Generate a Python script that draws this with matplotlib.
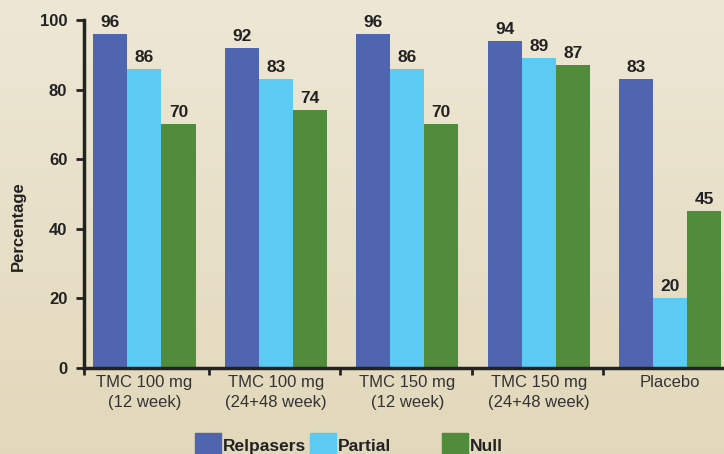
import numpy as np
import matplotlib
matplotlib.use("Agg")
from matplotlib import pyplot as plt
from matplotlib.patches import Rectangle

plt.rcParams['font.family'] = ['Liberation Sans', 'DejaVu Sans']

GROUPS = ['TMC 100 mg\n(12 week)', 'TMC 100 mg\n(24+48 week)', 'TMC 150 mg\n(12 week)',
          'TMC 150 mg\n(24+48 week)', 'Placebo']
RELAPSERS = [96, 92, 96, 94, 83]
PARTIAL = [86, 83, 86, 89, 20]
NULL = [70, 74, 70, 87, 45]
SERIES = ['Relpasers', 'Partial', 'Null']
COLORS = ['#5065b0', '#5bcbf3', '#518c3d']

fig = plt.figure(figsize=(7.24, 4.54), dpi=100)

# soft cream gradient behind everything
bg = fig.add_axes([0, 0, 1, 1], zorder=-10)
grad = np.linspace(0, 1, 256).reshape(-1, 1)
top = np.array([0.930, 0.906, 0.835])
bot = np.array([0.886, 0.847, 0.733])
img = top + (bot - top) * grad[:, :, None]
bg.imshow(img, aspect='auto', extent=[0, 1, 0, 1])
bg.axis('off')

ax = fig.add_axes([84 / 724, 86 / 454, 1 - 84 / 724, 348 / 454])
ax.patch.set_alpha(0)

x = np.arange(len(GROUPS))
w = 0.259
for i, (vals, col) in enumerate(zip([RELAPSERS, PARTIAL, NULL], COLORS)):
    pos = x + (i - 1) * w
    ax.bar(pos, vals, width=w, color=col, zorder=2)
    for p, v in zip(pos, vals):
        ax.text(p, v + 1.2, str(v), ha='center', va='bottom', fontsize=12.5,
                fontweight='bold', color='#222222')

xmin, xmax = -0.46, 4.41
ax.set_xlim(xmin, xmax)
ax.set_ylim(0, 100)
ax.set_yticks([0, 20, 40, 60, 80, 100])
ax.tick_params(axis='y', labelsize=12, width=2, length=6, color='#222222', pad=6)
for lab in ax.get_yticklabels():
    lab.set_fontweight('bold')
    lab.set_color('#222222')

# group boundaries get the ticks, names sit in between
ax.set_xticks(np.concatenate([[xmin], x[:-1] + 0.49]))
ax.set_xticklabels([])
ax.set_xticks(x, minor=True)
ax.set_xticklabels(GROUPS, minor=True, fontsize=12, color='#333333', linespacing=1.4)
ax.tick_params(axis='x', which='major', width=2, length=5, color='#222222')
ax.tick_params(axis='x', which='minor', length=0, pad=5)

for s in ['top', 'right']:
    ax.spines[s].set_visible(False)
for s in ['left', 'bottom']:
    ax.spines[s].set_linewidth(2.5)
    ax.spines[s].set_color('#222222')

fig.text(18 / 724, 1 - 226 / 454, 'Percentage', rotation=90, ha='center', va='center',
         fontsize=12, fontweight='bold', color='#222222')

# legend along the bottom edge
leg_x = [195, 310, 442]
for lx, name, col in zip(leg_x, SERIES, COLORS):
    fig.patches.append(Rectangle((lx / 724, -2 / 454), 26 / 724, 23 / 454,
                                 transform=fig.transFigure, color=col))
    fig.text((lx + 28) / 724, 0 / 454, name, ha='left', va='bottom', fontsize=12.5,
             fontweight='bold', color='#222222')

fig.savefig('out.png', dpi=100)
